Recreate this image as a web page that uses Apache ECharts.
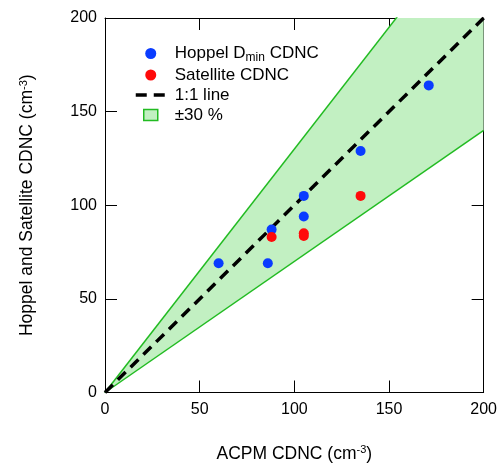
<!DOCTYPE html>
<html><head><meta charset="utf-8">
<script src="https://cdn.jsdelivr.net/npm/echarts@6/dist/echarts.min.js"></script>
<style>html,body{margin:0;padding:0;background:#fff}#c{width:500px;height:468px}</style>
</head><body><div id="c"></div>
<script>
// ---- data ----
const hoppelX = [60, 86, 88, 105, 105, 135, 171];
const hoppelY = [69, 69, 87, 105, 94, 129, 164];
const satelliteX = [88, 105, 105, 135];
const satelliteY = [83, 85, 83.6, 105];
const oneToOneX = [0, 200];
const oneToOneY = [0, 200];
const bandPercent = 30;
const axisMin = 0, axisMax = 200, tickStep = 50;

const FONT = '"Liberation Sans", Arial, sans-serif';
const BLUE = '#0a3cff', RED = '#ff0a0a', GREEN = '#22bb22', GREENFILL = '#c2f0c2';
const up = 1 + bandPercent / 100, lo = 1 - bandPercent / 100;

const zip = (xs, ys) => xs.map((x, i) => [x, ys[i]]);
const upperLine = zip(oneToOneX, oneToOneX.map(v => v * up));
const lowerLine = zip(oneToOneX, oneToOneX.map(v => v * lo));
const bandPoly = [[axisMin, axisMin], [axisMax / up, axisMax], [axisMax, axisMax], [axisMax, axisMax * lo]];

const chart = echarts.init(document.getElementById('c'), null, {renderer: 'canvas'});

const tickCommon = {inside: true, length: 12, lineStyle: {color: '#000', width: 1}};
const lineCommon = {show: true, onZero: false, lineStyle: {color: '#000', width: 1}};
const supRich = {sup: {fontSize: 11, fontFamily: FONT, color: '#000', verticalAlign: 'top', padding: [0, 0, 8, 0]}};

chart.setOption({
  animation: false,
  backgroundColor: '#fff',
  textStyle: {fontFamily: FONT},
  grid: {left: 105, right: 16, top: 18, bottom: 72, containLabel: false},
  legend: {
    orient: 'vertical', left: 134, top: 45, padding: 0, itemWidth: 30, itemHeight: 11, itemGap: 3,
    selectedMode: false,
    textStyle: {fontSize: 17, color: '#000', fontFamily: FONT, padding: [0, 0, 0, 4],
      rich: {sub: {fontSize: 12, fontFamily: FONT, color: '#000', verticalAlign: 'bottom', padding: [8, 0, 0, 0]}}},
    formatter: n => n === 'Hoppel Dmin CDNC' ? 'Hoppel D{sub|min} CDNC' : n,
    data: [
      {name: 'Hoppel Dmin CDNC', icon: 'circle'},
      {name: 'Satellite CDNC', icon: 'circle'},
      {name: '1:1 line', itemStyle: {color: 'rgba(0,0,0,0)', opacity: 0, borderWidth: 0},
       lineStyle: {color: '#000', width: 3.5, type: [11, 7], cap: 'butt'}},
      {name: '±30 %', icon: 'path://M0,0H14V11H0Z', itemStyle: {color: GREENFILL, borderColor: GREEN, borderWidth: 1.5}}
    ]
  },
  xAxis: [{
    type: 'value', min: axisMin, max: axisMax, interval: tickStep, position: 'bottom',
    axisLine: lineCommon, axisTick: tickCommon, splitLine: {show: false},
    axisLabel: {fontSize: 16, color: '#000', fontFamily: FONT, margin: 9},
    name: 'ACPM CDNC (cm{sup|-3})', nameLocation: 'middle', nameGap: 52,
    nameTextStyle: {fontSize: 17.5, color: '#000', fontFamily: FONT, rich: supRich}
  }, {
    type: 'value', min: axisMin, max: axisMax, interval: tickStep, position: 'top',
    axisLine: lineCommon, axisTick: tickCommon, splitLine: {show: false}, axisLabel: {show: false}
  }],
  yAxis: [{
    type: 'value', min: axisMin, max: axisMax, interval: tickStep, position: 'left',
    axisLine: lineCommon, axisTick: tickCommon, splitLine: {show: false},
    axisLabel: {fontSize: 16, color: '#000', fontFamily: FONT, margin: 8},
    name: 'Hoppel and Satellite CDNC (cm{sup|-3})', nameLocation: 'middle', nameGap: 68,
    nameTextStyle: {fontSize: 17.5, color: '#000', fontFamily: FONT, rich: supRich}
  }, {
    type: 'value', min: axisMin, max: axisMax, interval: tickStep, position: 'right',
    axisLine: lineCommon, axisTick: tickCommon, splitLine: {show: false}, axisLabel: {show: false}
  }],
  series: [
    {
      name: '±30 %', type: 'custom', z: 1, silent: true,
      data: [0],
      renderItem: (params, api) => ({
        type: 'polygon',
        shape: {points: bandPoly.map(p => api.coord(p))},
        style: {fill: GREENFILL, stroke: 'none'}
      }),
      itemStyle: {color: GREENFILL, borderColor: GREEN, borderWidth: 1.5}
    },
    {type: 'line', data: upperLine, symbol: 'none', clip: true, z: 2, silent: true,
     lineStyle: {color: GREEN, width: 1.5}},
    {type: 'line', data: lowerLine, symbol: 'none', clip: true, z: 2, silent: true,
     lineStyle: {color: GREEN, width: 1.5}},
    {name: '1:1 line', type: 'line', data: zip(oneToOneX, oneToOneY), symbol: 'none', clip: true, z: 3,
     itemStyle: {color: '#000'},
     lineStyle: {color: '#000', width: 3.5, type: [11, 7], cap: 'butt'}},
    {name: 'Hoppel Dmin CDNC', type: 'scatter', data: zip(hoppelX, hoppelY), symbolSize: 10, z: 4,
     itemStyle: {color: BLUE, opacity: 1}},
    {name: 'Satellite CDNC', type: 'scatter', data: zip(satelliteX, satelliteY), symbolSize: 10, z: 4,
     itemStyle: {color: RED, opacity: 1}}
  ]
});
</script></body></html>
